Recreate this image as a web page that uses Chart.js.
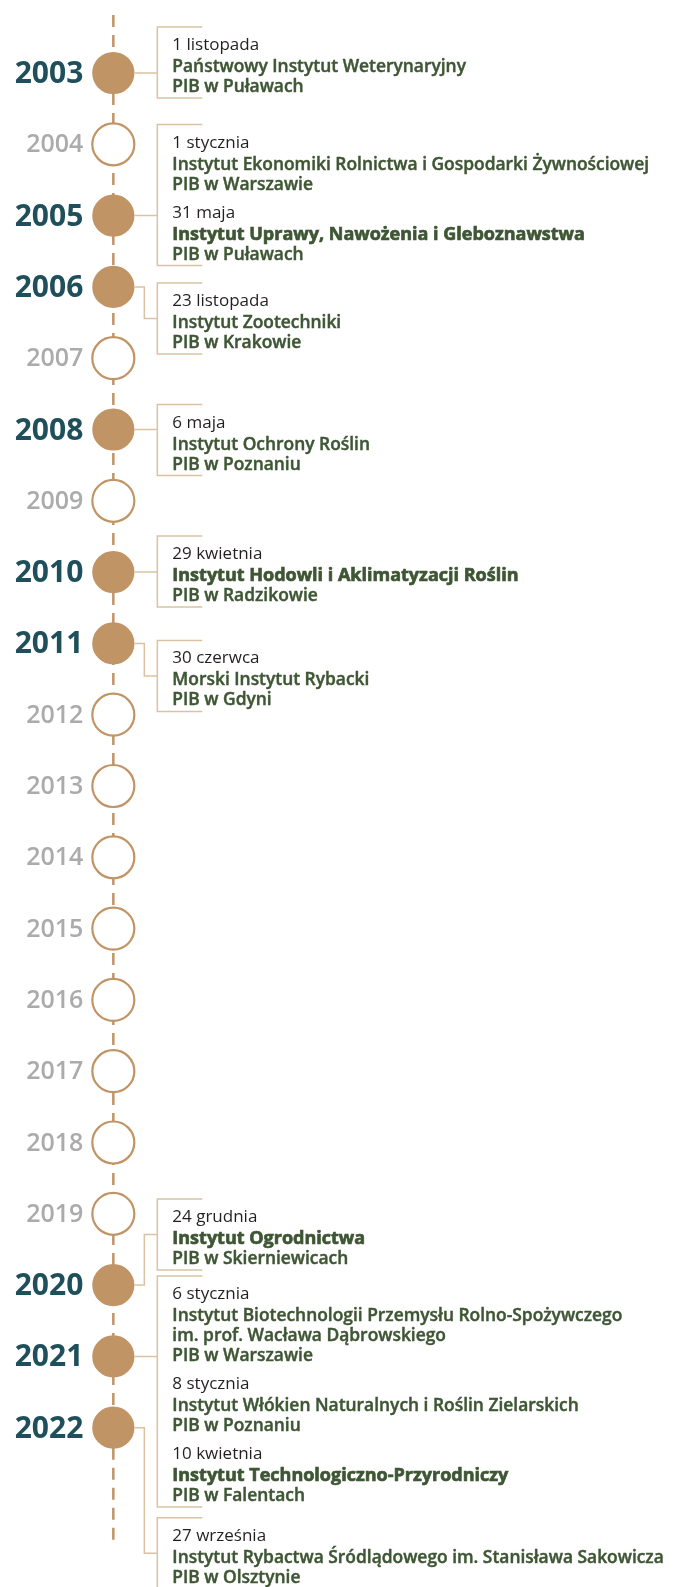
<!DOCTYPE html>
<html lang="pl">
<head>
<meta charset="utf-8">
<title>Państwowe Instytuty Badawcze – oś czasu</title>
<script src="https://cdn.jsdelivr.net/npm/chart.js@4/dist/chart.umd.min.js"></script>
<style>
  html, body { margin: 0; padding: 0; background: #ffffff; }
  canvas { display: block; }
</style>
</head>
<body>
<canvas id="timeline" width="680" height="1587"></canvas>
<script>
// years on the axis
const years = [2003, 2004, 2005, 2006, 2007, 2008, 2009, 2010, 2011, 2012,
  2013, 2014, 2015, 2016, 2017, 2018, 2019, 2020, 2021, 2022];

// events (one entry per institute)
const eventYears = [2003, 2005, 2005, 2006, 2008, 2010, 2011, 2020, 2021, 2021, 2021, 2022];
const eventDates = ['1 listopada', '1 stycznia', '31 maja', '23 listopada', '6 maja', '29 kwietnia',
  '30 czerwca', '24 grudnia', '6 stycznia', '8 stycznia', '10 kwietnia', '27 września'];
const eventNames = [
  ['Państwowy Instytut Weterynaryjny', 'PIB w Puławach'],
  ['Instytut Ekonomiki Rolnictwa i Gospodarki Żywnościowej', 'PIB w Warszawie'],
  ['Instytut Uprawy, Nawożenia i Gleboznawstwa', 'PIB w Puławach'],
  ['Instytut Zootechniki', 'PIB w Krakowie'],
  ['Instytut Ochrony Roślin', 'PIB w Poznaniu'],
  ['Instytut Hodowli i Aklimatyzacji Roślin', 'PIB w Radzikowie'],
  ['Morski Instytut Rybacki', 'PIB w Gdyni'],
  ['Instytut Ogrodnictwa', 'PIB w Skierniewicach'],
  ['Instytut Biotechnologii Przemysłu Rolno-Spożywczego', 'im. prof. Wacława Dąbrowskiego', 'PIB w Warszawie'],
  ['Instytut Włókien Naturalnych i Roślin Zielarskich', 'PIB w Poznaniu'],
  ['Instytut Technologiczno-Przyrodniczy', 'PIB w Falentach'],
  ['Instytut Rybactwa Śródlądowego im. Stanisława Sakowicza', 'PIB w Olsztynie']
];
const eventBold = [false, false, true, false, false, true, false, true, false, false, true, false];

const TAN = '#c19465';
const THIN = '#d9c3a3';
const TEAL = '#1f4f5a';
const GREY = '#ababab';
const GREEN = '#3e5634';
const FONT = '"Open Sans", "Noto Sans", sans-serif';

const hasEvent = y => eventYears.includes(y);

// where each text block sits relative to its year's circle (px)
const blockShift = { 2003: -46, 2005: -91, 2006: -4, 2008: -25, 2010: -36, 2011: -3, 2020: -86, 2021: -84, 2022: 90 };

const rowPx = 71.3;
const firstRowY = 73;
const yMin = years[0] - firstRowY / rowPx;
const yMax = yMin + 1587 / rowPx;

const timelineText = {
  id: 'timelineText',
  beforeDatasetsDraw(chart) {
    const { ctx, scales: { x, y } } = chart;
    const cx = x.getPixelForValue(0);
    const yTop = y.getPixelForValue(years[0]);
    const yBot = y.getPixelForValue(years[years.length - 1]);
    ctx.save();
    ctx.strokeStyle = TAN;
    ctx.lineWidth = 2.5;
    ctx.setLineDash([12, 8]);
    ctx.beginPath();
    ctx.moveTo(cx, 15);
    ctx.lineTo(cx, yTop);
    ctx.moveTo(cx, yBot);
    ctx.lineTo(cx, yBot + 120);
    ctx.stroke();
    ctx.restore();
  },
  afterDatasetsDraw(chart) {
    const { ctx, scales: { x, y } } = chart;
    const cx = x.getPixelForValue(0);
    ctx.save();

    // year labels
    ctx.textAlign = 'right';
    ctx.textBaseline = 'alphabetic';
    years.forEach(yr => {
      const cy = y.getPixelForValue(yr);
      if (hasEvent(yr)) {
        ctx.font = '700 30px ' + FONT;
        ctx.fillStyle = TEAL;
        ctx.fillText(String(yr), cx - 30, cy + 10);
      } else {
        ctx.font = '600 25px ' + FONT;
        ctx.fillStyle = GREY;
        ctx.fillText(String(yr), cx - 30, cy + 8);
      }
    });

    // group events per year
    const groups = [];
    eventYears.forEach((yr, i) => {
      let g = groups.find(gr => gr.year === yr);
      if (!g) { g = { year: yr, idx: [] }; groups.push(g); }
      g.idx.push(i);
    });

    const bx = cx + 44, tx = cx + 59, ex = cx + 31, r = 21;
    let prevBottom = -Infinity;
    ctx.textAlign = 'left';
    groups.forEach(g => {
      const cy = y.getPixelForValue(g.year);
      const top = Math.max(cy + blockShift[g.year], prevBottom + 6);
      const lines = [];
      let ly = top + 17;
      g.idx.forEach((i, k) => {
        if (k > 0) ly += 28;
        lines.push({ t: eventDates[i], y: ly, kind: 'date' });
        eventNames[i].forEach((n, j) => {
          ly += j === 0 ? 22 : 20;
          lines.push({ t: n, y: ly, kind: (j === 0 && eventBold[i]) ? 'bold' : 'name' });
        });
      });
      const bottom = ly + 12;
      prevBottom = bottom;

      ctx.strokeStyle = THIN;
      ctx.lineWidth = 1.5;
      ctx.beginPath();
      ctx.moveTo(bx + 45, top);
      ctx.lineTo(bx, top);
      ctx.lineTo(bx, bottom);
      ctx.lineTo(bx + 45, bottom);
      ctx.moveTo(cx + r, cy);
      if (cy > top + 10 && cy < bottom - 10) {
        ctx.lineTo(bx, cy);
      } else {
        const mid = (top + bottom) / 2;
        ctx.lineTo(ex, cy);
        ctx.lineTo(ex, mid);
        ctx.lineTo(bx, mid);
      }
      ctx.stroke();

      lines.forEach(l => {
        if (l.kind === 'date') {
          ctx.font = '400 17px ' + FONT;
          ctx.fillStyle = '#231f20';
          ctx.fillText(l.t, tx, l.y + 6);
          return;
        }
        const bold = l.kind === 'bold';
        ctx.font = bold ? '700 18px ' + FONT : '600 17.4px ' + FONT;
        ctx.fillStyle = GREEN;
        ctx.strokeStyle = GREEN;
        ctx.lineWidth = bold ? 0.7 : 0.45;
        ctx.fillText(l.t, tx, l.y + 6);
        ctx.strokeText(l.t, tx, l.y + 6);
      });
    });
    ctx.restore();
  }
};

const points = years.map(yr => ({ x: 0, y: yr }));

new Chart(document.getElementById('timeline').getContext('2d'), {
  type: 'scatter',
  data: {
    datasets: [
      {
        label: 'lata',
        data: points,
        order: 0,
        pointRadius: c => hasEvent(years[c.dataIndex]) ? 20 : 21,
        pointHoverRadius: c => hasEvent(years[c.dataIndex]) ? 20 : 21,
        pointBackgroundColor: c => hasEvent(years[c.dataIndex]) ? TAN : '#ffffff',
        pointBorderColor: TAN,
        pointBorderWidth: 2.2,
        clip: false
      },
      {
        label: 'oś',
        data: points,
        order: 1,
        showLine: true,
        borderColor: TAN,
        borderWidth: 2.5,
        borderDash: [12, 8],
        pointRadius: 0,
        clip: false
      }
    ]
  },
  options: {
    responsive: false,
    animation: false,
    events: [],
    layout: { padding: 0, autoPadding: false },
    plugins: { legend: { display: false }, tooltip: { enabled: false } },
    scales: {
      x: { type: 'linear', min: -1, max: 5, display: false },
      y: { type: 'linear', reverse: true, min: yMin, max: yMax, display: false }
    }
  },
  plugins: [timelineText]
});
</script>
</body>
</html>
